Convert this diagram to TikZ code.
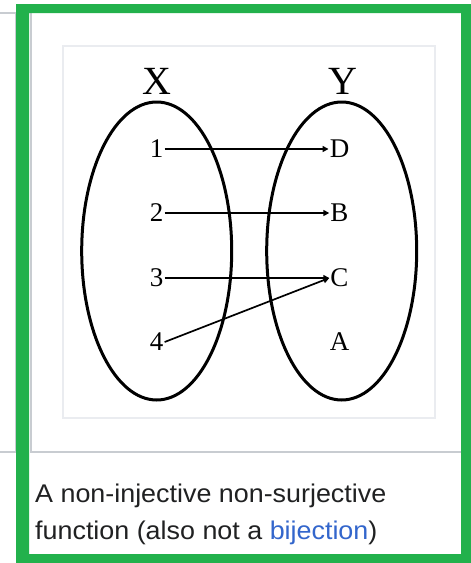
\documentclass[tikz,border=0pt]{standalone}
\usepackage{fontspec}
\setmainfont{Liberation Serif}
\newfontfamily\capfont[FakeStretch=1.05]{Liberation Sans}
\usetikzlibrary{arrows.meta}
\definecolor{verde}{RGB}{34,177,76}
\definecolor{grigio}{RGB}{200,204,209}
\definecolor{grigiochiaro}{RGB}{234,236,240}
\definecolor{testo}{RGB}{32,33,34}
\definecolor{link}{RGB}{51,102,204}

\begin{document}
\begin{tikzpicture}[x=1pt,y=-1pt,
    elem/.style={inner sep=1pt,font=\fontsize{27}{27}\selectfont},
    insieme/.style={inner sep=0pt,font=\fontsize{40}{40}\selectfont},
    freccia/.style={line width=1.7pt,-{Triangle[length=6pt,width=6pt]}}]
  \useasboundingbox (0,0) rectangle (471,563);
  \fill[white] (0,0) rectangle (471,563);
  % cornice della miniatura
  \draw[grigio,line width=1.5pt] (0,13) -- (15.5,13) -- (15.5,452) -- (0,452);
  \draw[grigio,line width=1.5pt] (31,13) -- (31,452) -- (461,452);
  \draw[grigiochiaro,line width=1.5pt] (63,46) rectangle (435,418);

  % insiemi X e Y
  \draw[line width=3pt] (156.7,251) ellipse [x radius=75pt,y radius=149pt];
  \draw[line width=3pt] (341.7,251) ellipse [x radius=75pt,y radius=149pt];
  \node[insieme] (X) at (156.7,81) {X};
  \node[insieme] (Y) at (343,81) {Y};

  % elementi
  \foreach \n/\y in {1/149,2/213,3/278,4/342}
    \node[elem] (n\n) at (156.7,\y) {\n};
  \foreach \l/\y in {D/149,B/213,C/278,A/342}
    \node[elem] (\l) at (339.5,\y) {\l};

  % frecce: 3 e 4 vanno entrambe su C
  \draw[freccia] (n1.east) -- (D.west);
  \draw[freccia] (n2.east) -- (B.west);
  \draw[freccia] (n3.east) -- (C.west);
  \draw[freccia] (n4.east) -- (C.west);

  % didascalia
  \node[anchor=base west,inner sep=0pt,text=testo,font=\capfont\fontsize{25.6}{25.6}\selectfont]
    (riga1) at (35,502.7) {A non-injective non-surjective};
  \node[anchor=base west,inner sep=0pt,text=testo,font=\capfont\fontsize{25.6}{25.6}\selectfont]
    (riga2) at (35,539.3) {function (also not a \textcolor{link}{bijection})};

  % bordo verde
  \fill[verde,even odd rule] (16,4) rectangle (471,563) (29,13) rectangle (461,554);
\end{tikzpicture}
\end{document}
